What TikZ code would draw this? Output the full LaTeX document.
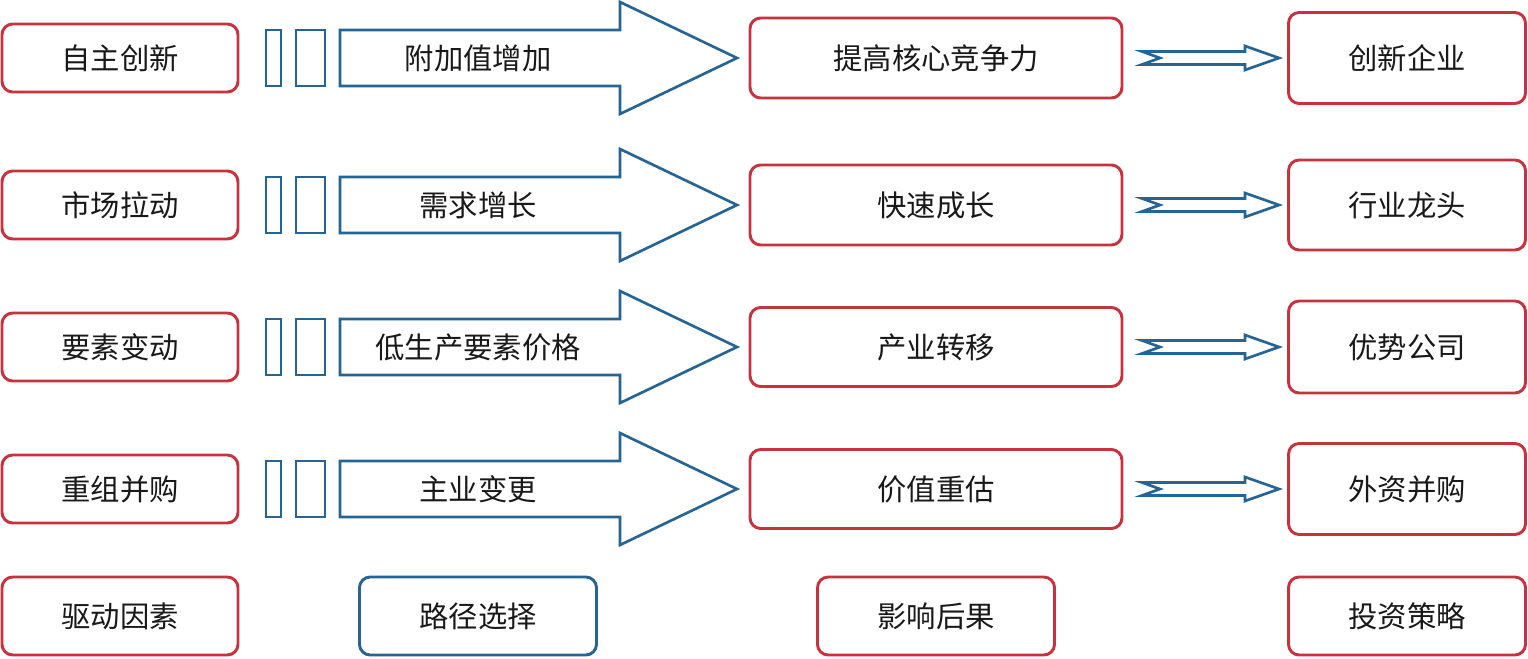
\documentclass[tikz,border=0pt]{standalone}
\usepackage{fontspec}
\setmainfont{Noto Sans CJK SC}
\definecolor{bred}{RGB}{200,50,62}
\definecolor{bblue}{RGB}{38,100,148}
\begin{document}
\begin{tikzpicture}[x=0.75pt,y=-0.75pt,
  box/.style={draw=bred,line width=2.2pt,rounded corners=8pt,fill=white,inner sep=0pt},
  bbox/.style={draw=bblue,line width=2.2pt,rounded corners=8pt,fill=white,inner sep=0pt},
  txt/.style={font=\fontsize{22}{24}\selectfont,text=black!90},
  shp/.style={draw=bblue,line width=2pt,line join=miter}]
\useasboundingbox (0,0) rectangle (1528,658);
% row centers
\foreach \r/\y/\a/\b/\c/\d/\mt/\mb/\rt/\rb in {
  1/58/自主创新/附加值增加/提高核心竞争力/创新企业/18/98/12/103,
  2/205/市场拉动/需求增长/快速成长/行业龙头/165/245/160/250,
  3/347/要素变动/低生产要素价格/产业转移/优势公司/307/386/300/392,
  4/489/重组并购/主业变更/价值重估/外资并购/449/528/444/535}{
  \node[box,txt,minimum width=236*0.75pt,minimum height=68*0.75pt] (d\r) at (120,\y) {\a};
  \draw[shp] (266,\y-28) rectangle (281,\y+28);
  \draw[shp] (296,\y-28) rectangle (325,\y+28);
  \draw[shp] (340,\y-28) -- (620,\y-28) -- (620,\y-56) -- (737,\y) -- (620,\y+56) -- (620,\y+28) -- (340,\y+28) -- cycle;
  \node[txt] (p\r) at (478,\y) {\b};
  \path (936,\mt) coordinate (mt\r) (936,\mb) coordinate (mb\r);
  \node[box,txt,minimum width=372*0.75pt,minimum height={(\mb-\mt)*0.75pt}] (m\r) at (936,\y) {\c};
  \node[box,txt,minimum width=237*0.75pt,minimum height={(\rb-\rt)*0.75pt}] (s\r) at (1407,\y) {\d};
  \draw[shp] (1142,\y-6.5) -- (1245,\y-6.5) -- (1245,\y-12) -- (1279,\y) -- (1245,\y+12) -- (1245,\y+6.5) -- (1142,\y+6.5) -- (1160,\y) -- cycle;
}
\node[box,txt,minimum width=236*0.75pt,minimum height=78*0.75pt] (f1) at (120,616) {驱动因素};
\node[bbox,txt,minimum width=237*0.75pt,minimum height=78*0.75pt] (f2) at (478,616) {路径选择};
\node[box,txt,minimum width=237*0.75pt,minimum height=78*0.75pt] (f3) at (936,616) {影响后果};
\node[box,txt,minimum width=237*0.75pt,minimum height=78*0.75pt] (f4) at (1407,616) {投资策略};
\end{tikzpicture}
\end{document}
